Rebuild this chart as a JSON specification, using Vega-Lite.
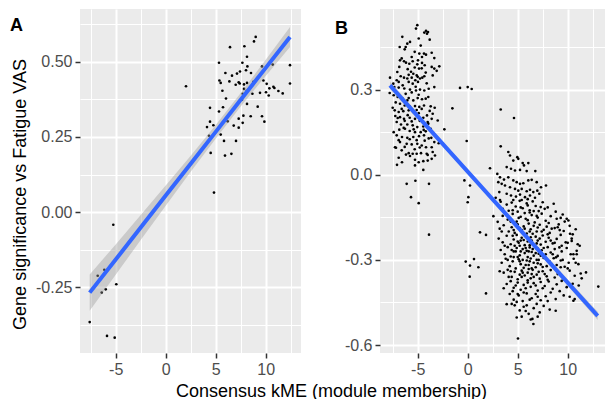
{
  "$schema": "https://vega.github.io/schema/vega-lite/v6.json",
  "padding": {"left": 10, "top": 9, "right": 0, "bottom": 0},
  "background": "white",
  "spacing": 79,
  "bounds": "flush",
  "datasets": {
    "ptsA": [
      {"x":2.03,"y":0.419},{"x":6.43,"y":0.549},{"x":5.33,"y":0.497},{"x":7.87,"y":0.552},{"x":9.0,"y":0.583},{"x":8.83,"y":0.568},{"x":8.13,"y":0.517},{"x":7.67,"y":0.497},{"x":8.17,"y":0.485},{"x":7.43,"y":0.468},{"x":8.03,"y":0.472},{"x":8.53,"y":0.463},{"x":7.13,"y":0.461},{"x":6.63,"y":0.454},{"x":5.97,"y":0.463},{"x":9.63,"y":0.485},{"x":10.7,"y":0.491},{"x":12.43,"y":0.489},{"x":12.43,"y":0.428},{"x":5.37,"y":0.438},{"x":5.5,"y":0.43},{"x":6.37,"y":0.435},{"x":7.0,"y":0.424},{"x":7.3,"y":0.432},{"x":7.4,"y":0.428},{"x":7.83,"y":0.425},{"x":8.13,"y":0.43},{"x":8.77,"y":0.434},{"x":9.77,"y":0.438},{"x":10.1,"y":0.427},{"x":10.37,"y":0.412},{"x":10.77,"y":0.417},{"x":10.87,"y":0.413},{"x":11.27,"y":0.403},{"x":11.7,"y":0.395},{"x":10.03,"y":0.399},{"x":10.3,"y":0.388},{"x":9.43,"y":0.397},{"x":8.67,"y":0.394},{"x":8.1,"y":0.403},{"x":7.83,"y":0.41},{"x":7.7,"y":0.394},{"x":7.63,"y":0.374},{"x":8.13,"y":0.36},{"x":5.67,"y":0.404},{"x":6.03,"y":0.378},{"x":5.73,"y":0.349},{"x":5.33,"y":0.335},{"x":4.43,"y":0.347},{"x":9.2,"y":0.351},{"x":7.77,"y":0.321},{"x":8.5,"y":0.319},{"x":9.63,"y":0.319},{"x":9.87,"y":0.301},{"x":7.3,"y":0.311},{"x":7.7,"y":0.297},{"x":6.8,"y":0.288},{"x":7.3,"y":0.281},{"x":6.2,"y":0.302},{"x":4.43,"y":0.301},{"x":4.77,"y":0.289},{"x":4.13,"y":0.283},{"x":4.33,"y":0.254},{"x":5.5,"y":0.258},{"x":5.83,"y":0.237},{"x":7.03,"y":0.237},{"x":4.5,"y":0.197},{"x":5.93,"y":0.188},{"x":6.57,"y":0.194},{"x":4.83,"y":0.065},
      {"x":-5.24,"y":-0.042},{"x":-6.8,"y":-0.212},{"x":-6.14,"y":-0.192},{"x":-4.94,"y":-0.24},{"x":-6.0,"y":-0.257},{"x":-6.4,"y":-0.268},{"x":-7.6,"y":-0.366},{"x":-5.87,"y":-0.412},{"x":-5.1,"y":-0.418}
    ],
    "fitA": [
      {"x":-7.6,"y":-0.268,"lo":-0.328,"hi":-0.208},
      {"x":-5,"y":-0.158,"lo":-0.2085,"hi":-0.1075},
      {"x":-2.5,"y":-0.0513,"lo":-0.093,"hi":-0.0096},
      {"x":0,"y":0.055,"lo":0.0214,"hi":0.0886},
      {"x":2.5,"y":0.161,"lo":0.1341,"hi":0.1879},
      {"x":5,"y":0.267,"lo":0.2443,"hi":0.2897},
      {"x":7.5,"y":0.374,"lo":0.3513,"hi":0.3967},
      {"x":10,"y":0.48,"lo":0.4533,"hi":0.5067},
      {"x":12.43,"y":0.583,"lo":0.5499,"hi":0.6161}
    ],
    "fitB": [
      {"x":-7.77,"y":0.315,"lo":0.301,"hi":0.329},
      {"x":-5,"y":0.2067,"lo":0.1957,"hi":0.2177},
      {"x":-2.5,"y":0.1089,"lo":0.1003,"hi":0.1175},
      {"x":0,"y":0.0112,"lo":0.0045,"hi":0.0179},
      {"x":2.5,"y":-0.0866,"lo":-0.0926,"hi":-0.0806},
      {"x":5,"y":-0.1843,"lo":-0.191,"hi":-0.1776},
      {"x":7.5,"y":-0.2821,"lo":-0.2907,"hi":-0.2735},
      {"x":10,"y":-0.3798,"lo":-0.3908,"hi":-0.3688},
      {"x":13.0,"y":-0.4971,"lo":-0.5114,"hi":-0.4828}
    ],
    "ptsB": [
      {"x":-5.04,"y":0.527},{"x":-5.17,"y":0.515},{"x":-4.17,"y":0.507},{"x":-3.97,"y":0.503},{"x":-4.07,"y":0.497},{"x":-4.34,"y":0.501},{"x":-6.54,"y":0.486},{"x":-5.77,"y":0.468},{"x":-6.04,"y":0.462},{"x":-6.2,"y":0.45},{"x":-6.3,"y":0.442},{"x":-3.8,"y":0.476},{"x":-5.3,"y":0.433},{"x":-4.84,"y":0.427},{"x":-4.37,"y":0.427},{"x":-4.57,"y":0.415},{"x":-4.17,"y":0.423},{"x":-4.97,"y":0.403},{"x":-3.34,"y":0.411},{"x":-6.77,"y":0.403},{"x":-6.37,"y":0.4},{"x":-6.17,"y":0.395},{"x":-5.84,"y":0.391},{"x":-5.04,"y":0.389},{"x":-4.57,"y":0.394},{"x":-4.3,"y":0.386},{"x":-4.87,"y":0.374},{"x":-3.6,"y":0.38},{"x":-2.84,"y":0.382},{"x":-3.1,"y":0.366},{"x":-3.34,"y":0.374},{"x":-6.84,"y":0.38},{"x":-7.04,"y":0.362},{"x":-5.67,"y":0.363},{"x":-5.44,"y":0.356},{"x":-5.1,"y":0.35},{"x":-6.7,"y":0.347},{"x":-6.37,"y":0.342},{"x":-6.04,"y":0.339},{"x":-5.6,"y":0.342},{"x":-5.24,"y":0.333},{"x":-4.77,"y":0.339},{"x":-4.54,"y":0.342},{"x":-4.34,"y":0.347},{"x":-4.97,"y":0.327},{"x":-5.5,"y":0.321},{"x":-5.9,"y":0.327},{"x":-7.1,"y":0.333},{"x":-6.9,"y":0.327},{"x":-7.44,"y":0.321},{"x":-7.77,"y":0.342},{"x":-7.8,"y":0.288},{"x":-7.34,"y":0.309},{"x":-6.9,"y":0.307},{"x":-6.34,"y":0.304},{"x":-5.77,"y":0.3},{"x":-5.17,"y":0.297},{"x":-4.77,"y":0.3},{"x":-4.34,"y":0.297},{"x":-3.9,"y":0.303},{"x":-3.34,"y":0.309},{"x":-7.4,"y":0.28},{"x":-7.0,"y":0.274},{"x":-6.5,"y":0.268},{"x":-6.04,"y":0.262},{"x":-5.44,"y":0.262},{"x":-5.0,"y":0.27},{"x":-4.57,"y":0.266},{"x":-3.94,"y":0.274},{"x":-6.77,"y":0.25},{"x":-6.3,"y":0.244},{"x":-5.8,"y":0.241},{"x":-5.27,"y":0.242},{"x":-4.84,"y":0.239},{"x":-4.37,"y":0.244},{"x":-3.7,"y":0.241},{"x":-3.3,"y":0.236},{"x":-7.3,"y":0.227},{"x":-6.9,"y":0.221},{"x":-6.44,"y":0.224},{"x":-5.9,"y":0.227},{"x":-5.44,"y":0.221},{"x":-4.9,"y":0.217},{"x":-4.07,"y":0.209},{"x":-3.5,"y":0.215},{"x":-7.24,"y":0.207},{"x":-6.77,"y":0.203},{"x":-6.37,"y":0.197},{"x":-5.8,"y":0.201},{"x":-5.27,"y":0.197},{"x":-4.44,"y":0.201},{"x":-3.6,"y":0.197},{"x":-3.0,"y":0.191},{"x":-7.1,"y":0.186},{"x":-6.67,"y":0.177},{"x":-6.04,"y":0.177},{"x":-5.5,"y":0.174},{"x":-5.04,"y":0.168},{"x":-4.44,"y":0.17},{"x":-3.94,"y":0.18},{"x":-6.84,"y":0.159},{"x":-6.27,"y":0.162},{"x":-5.8,"y":0.154},{"x":-5.27,"y":0.15},{"x":-4.7,"y":0.15},{"x":-4.2,"y":0.153},{"x":-7.1,"y":0.139},{"x":-6.57,"y":0.133},{"x":-6.04,"y":0.13},{"x":-5.44,"y":0.133},{"x":-4.87,"y":0.136},{"x":-4.37,"y":0.139},{"x":-3.64,"y":0.13},{"x":-3.34,"y":0.115},{"x":-2.9,"y":0.111},{"x":-7.27,"y":0.097},{"x":-6.77,"y":0.115},{"x":-6.1,"y":0.109},{"x":-5.6,"y":0.107},{"x":-5.04,"y":0.109},{"x":-4.6,"y":0.103},{"x":-4.17,"y":0.097},{"x":-3.6,"y":0.097},{"x":-7.17,"y":0.095},{"x":-6.6,"y":0.086},{"x":-5.9,"y":0.076},{"x":-5.5,"y":0.074},{"x":-5.1,"y":0.074},{"x":-4.67,"y":0.076},{"x":-3.5,"y":0.08},{"x":-3.27,"y":0.068},{"x":-7.07,"y":0.035},{"x":-6.57,"y":0.044},{"x":-6.17,"y":0.071},{"x":-5.27,"y":0.053},{"x":-4.9,"y":0.044},{"x":-4.44,"y":0.048},{"x":-4.0,"y":0.05},{"x":-3.6,"y":0.056},{"x":-5.27,"y":0.033},{"x":-4.44,"y":0.017},{"x":-5.77,"y":0.066},{"x":-4.1,"y":0.074},
      {"x":-6.6,"y":0.41},{"x":-5.6,"y":0.415},{"x":-4.7,"y":0.455},{"x":-6.0,"y":0.372},{"x":-5.3,"y":0.378},{"x":-4.2,"y":0.36},{"x":-6.5,"y":0.315},{"x":-5.9,"y":0.352},{"x":-5.0,"y":0.345},{"x":-4.1,"y":0.322},{"x":-7.2,"y":0.255},{"x":-6.2,"y":0.285},{"x":-5.6,"y":0.29},{"x":-4.9,"y":0.282},{"x":-4.2,"y":0.268},{"x":-7.5,"y":0.236},{"x":-6.6,"y":0.232},{"x":-5.1,"y":0.228},{"x":-4.6,"y":0.232},{"x":-3.8,"y":0.225},{"x":-7.0,"y":0.2},{"x":-6.0,"y":0.21},{"x":-5.6,"y":0.188},{"x":-4.8,"y":0.19},{"x":-4.0,"y":0.186},{"x":-6.4,"y":0.165},{"x":-5.4,"y":0.16},{"x":-4.4,"y":0.158},{"x":-3.7,"y":0.162},{"x":-7.4,"y":0.15},{"x":-6.9,"y":0.122},{"x":-5.8,"y":0.125},{"x":-5.1,"y":0.122},{"x":-4.3,"y":0.12},{"x":-3.9,"y":0.128},{"x":-6.3,"y":0.098},{"x":-5.3,"y":0.09},{"x":-4.8,"y":0.096},{"x":-6.9,"y":0.06},{"x":-4.0,"y":0.07},{"x":-5.5,"y":0.4},{"x":-6.8,"y":0.45},{"x":-4.9,"y":0.48},{"x":-3.6,"y":0.43},{"x":-5.9,"y":0.27},{"x":-6.3,"y":0.19},{"x":-4.6,"y":0.375},{"x":-3.5,"y":0.35},{"x":-7.6,"y":0.31},{"x":-5.2,"y":0.31},
      {"x":4.06,"y":0.08},{"x":4.23,"y":0.068},{"x":4.96,"y":0.062},{"x":5.06,"y":0.056},{"x":4.56,"y":0.05},{"x":5.5,"y":0.041},{"x":6.06,"y":0.041},{"x":5.63,"y":0.033},{"x":3.9,"y":0.027},{"x":4.33,"y":0.021},{"x":4.73,"y":0.015},{"x":5.23,"y":0.017},{"x":6.76,"y":0.013},{"x":5.9,"y":0.013},{"x":2.96,"y":0.003},{"x":3.23,"y":-0.009},{"x":3.63,"y":-0.017},{"x":4.06,"y":-0.009},{"x":4.56,"y":-0.02},{"x":4.9,"y":-0.026},{"x":5.23,"y":-0.032},{"x":5.56,"y":-0.03},{"x":6.06,"y":-0.02},{"x":6.4,"y":-0.018},{"x":6.9,"y":-0.026},{"x":7.33,"y":-0.044},{"x":7.83,"y":-0.038},{"x":3.06,"y":-0.026},{"x":3.4,"y":-0.032},{"x":3.73,"y":-0.038},{"x":4.23,"y":-0.044},{"x":4.73,"y":-0.05},{"x":5.06,"y":-0.056},{"x":5.4,"y":-0.05},{"x":5.9,"y":-0.058},{"x":6.23,"y":-0.053},{"x":6.56,"y":-0.061},{"x":6.96,"y":-0.056},{"x":3.16,"y":-0.061},{"x":3.9,"y":-0.067},{"x":4.33,"y":-0.073},{"x":4.83,"y":-0.077},{"x":5.23,"y":-0.07},{"x":5.73,"y":-0.079},{"x":6.23,"y":-0.073},{"x":6.73,"y":-0.081},{"x":7.16,"y":-0.067},{"x":2.8,"y":-0.081},{"x":3.23,"y":-0.089},{"x":4.56,"y":-0.089},{"x":5.4,"y":-0.089},{"x":6.0,"y":-0.086},
      {"x":3.3,"y":-0.095},{"x":3.9,"y":-0.105},{"x":4.4,"y":-0.098},{"x":4.8,"y":-0.112},{"x":5.2,"y":-0.092},{"x":5.5,"y":-0.118},{"x":5.9,"y":-0.101},{"x":6.2,"y":-0.125},{"x":6.5,"y":-0.094},{"x":6.8,"y":-0.11},{"x":7.1,"y":-0.128},{"x":7.5,"y":-0.097},{"x":8.0,"y":-0.115},{"x":8.6,"y":-0.102},{"x":4.1,"y":-0.127},{"x":5.0,"y":-0.13},{"x":6.0,"y":-0.108},{"x":7.3,"y":-0.114},
      {"x":3.5,"y":-0.145},{"x":4.0,"y":-0.158},{"x":4.5,"y":-0.138},{"x":4.9,"y":-0.165},{"x":5.3,"y":-0.148},{"x":5.7,"y":-0.135},{"x":6.0,"y":-0.16},{"x":6.4,"y":-0.142},{"x":6.7,"y":-0.168},{"x":7.0,"y":-0.151},{"x":7.4,"y":-0.137},{"x":7.8,"y":-0.162},{"x":8.3,"y":-0.146},{"x":8.9,"y":-0.155},{"x":9.5,"y":-0.14},{"x":5.1,"y":-0.152},{"x":6.2,"y":-0.133},{"x":3.0,"y":-0.166},
      {"x":3.2,"y":-0.19},{"x":3.6,"y":-0.178},{"x":4.1,"y":-0.2},{"x":4.4,"y":-0.185},{"x":4.7,"y":-0.205},{"x":5.0,"y":-0.175},{"x":5.4,"y":-0.195},{"x":5.6,"y":-0.182},{"x":5.9,"y":-0.207},{"x":6.1,"y":-0.172},{"x":6.3,"y":-0.192},{"x":6.6,"y":-0.18},{"x":6.9,"y":-0.2},{"x":7.2,"y":-0.176},{"x":7.6,"y":-0.194},{"x":7.9,"y":-0.183},{"x":8.2,"y":-0.205},{"x":8.7,"y":-0.188},{"x":9.1,"y":-0.175},{"x":9.6,"y":-0.198},{"x":10.2,"y":-0.18},{"x":10.8,"y":-0.192},{"x":5.2,"y":-0.188},{"x":6.5,"y":-0.208},{"x":7.0,"y":-0.186},
      {"x":3.1,"y":-0.225},{"x":3.5,"y":-0.238},{"x":3.9,"y":-0.215},{"x":4.3,"y":-0.245},{"x":4.6,"y":-0.228},{"x":4.9,"y":-0.212},{"x":5.1,"y":-0.24},{"x":5.4,"y":-0.222},{"x":5.7,"y":-0.248},{"x":5.8,"y":-0.214},{"x":6.0,"y":-0.235},{"x":6.3,"y":-0.22},{"x":6.5,"y":-0.244},{"x":6.8,"y":-0.218},{"x":7.0,"y":-0.232},{"x":7.3,"y":-0.246},{"x":7.5,"y":-0.214},{"x":7.8,"y":-0.236},{"x":8.1,"y":-0.222},{"x":8.5,"y":-0.242},{"x":8.9,"y":-0.226},{"x":9.3,"y":-0.212},{"x":9.8,"y":-0.238},{"x":10.4,"y":-0.225},{"x":11.0,"y":-0.245},{"x":5.3,"y":-0.232},{"x":6.2,"y":-0.248},{"x":6.9,"y":-0.242},{"x":4.7,"y":-0.25},
      {"x":3.3,"y":-0.265},{"x":3.7,"y":-0.28},{"x":4.0,"y":-0.255},{"x":4.3,"y":-0.288},{"x":4.6,"y":-0.27},{"x":4.9,"y":-0.258},{"x":5.2,"y":-0.284},{"x":5.5,"y":-0.262},{"x":5.7,"y":-0.276},{"x":6.0,"y":-0.29},{"x":6.2,"y":-0.256},{"x":6.4,"y":-0.272},{"x":6.6,"y":-0.285},{"x":6.9,"y":-0.26},{"x":7.1,"y":-0.278},{"x":7.4,"y":-0.266},{"x":7.7,"y":-0.288},{"x":8.0,"y":-0.255},{"x":8.3,"y":-0.274},{"x":8.7,"y":-0.262},{"x":9.0,"y":-0.286},{"x":9.4,"y":-0.27},{"x":9.9,"y":-0.258},{"x":10.3,"y":-0.28},{"x":10.9,"y":-0.268},{"x":5.9,"y":-0.268},{"x":6.8,"y":-0.276},{"x":7.6,"y":-0.258},{"x":5.0,"y":-0.29},
      {"x":3.4,"y":-0.31},{"x":3.8,"y":-0.296},{"x":4.2,"y":-0.322},{"x":4.5,"y":-0.305},{"x":4.8,"y":-0.33},{"x":5.1,"y":-0.298},{"x":5.3,"y":-0.315},{"x":5.6,"y":-0.328},{"x":5.9,"y":-0.302},{"x":6.1,"y":-0.318},{"x":6.3,"y":-0.295},{"x":6.6,"y":-0.31},{"x":6.8,"y":-0.326},{"x":7.1,"y":-0.3},{"x":7.3,"y":-0.316},{"x":7.6,"y":-0.293},{"x":7.9,"y":-0.322},{"x":8.2,"y":-0.306},{"x":8.6,"y":-0.294},{"x":8.9,"y":-0.318},{"x":9.3,"y":-0.302},{"x":9.7,"y":-0.324},{"x":10.1,"y":-0.31},{"x":10.6,"y":-0.296},{"x":6.4,"y":-0.33},{"x":7.0,"y":-0.312},{"x":5.5,"y":-0.3},
      {"x":3.6,"y":-0.345},{"x":4.0,"y":-0.335},{"x":4.4,"y":-0.36},{"x":4.7,"y":-0.342},{"x":5.0,"y":-0.368},{"x":5.4,"y":-0.338},{"x":5.7,"y":-0.355},{"x":6.0,"y":-0.345},{"x":6.3,"y":-0.365},{"x":6.5,"y":-0.335},{"x":6.9,"y":-0.352},{"x":7.2,"y":-0.366},{"x":7.5,"y":-0.34},{"x":7.9,"y":-0.358},{"x":8.3,"y":-0.336},{"x":8.7,"y":-0.362},{"x":9.2,"y":-0.346},{"x":9.6,"y":-0.37},{"x":10.2,"y":-0.338},{"x":10.7,"y":-0.356},{"x":11.3,"y":-0.348},{"x":6.1,"y":-0.332},{"x":5.2,"y":-0.352},
      {"x":3.9,"y":-0.385},{"x":4.3,"y":-0.375},{"x":4.6,"y":-0.398},{"x":5.0,"y":-0.38},{"x":5.3,"y":-0.405},{"x":5.6,"y":-0.388},{"x":6.0,"y":-0.372},{"x":6.3,"y":-0.395},{"x":6.6,"y":-0.382},{"x":7.0,"y":-0.408},{"x":7.3,"y":-0.378},{"x":7.7,"y":-0.392},{"x":8.1,"y":-0.376},{"x":8.5,"y":-0.402},{"x":8.9,"y":-0.386},{"x":9.4,"y":-0.374},{"x":9.9,"y":-0.396},{"x":10.5,"y":-0.384},{"x":11.1,"y":-0.39},{"x":5.8,"y":-0.4},
      {"x":4.2,"y":-0.42},{"x":4.6,"y":-0.44},{"x":5.1,"y":-0.425},{"x":5.5,"y":-0.445},{"x":5.9,"y":-0.418},{"x":6.4,"y":-0.435},{"x":6.8,"y":-0.42},{"x":7.3,"y":-0.442},{"x":7.8,"y":-0.428},{"x":8.3,"y":-0.415},{"x":8.8,"y":-0.438},{"x":9.6,"y":-0.425},{"x":10.2,"y":-0.43},{"x":4.9,"y":-0.448},
      {"x":4.7,"y":-0.46},{"x":5.2,"y":-0.478},{"x":5.6,"y":-0.465},{"x":6.1,"y":-0.49},{"x":6.6,"y":-0.47},{"x":7.2,"y":-0.485},{"x":7.6,"y":-0.462},{"x":8.2,"y":-0.475},{"x":5.4,"y":-0.5},{"x":6.3,"y":-0.51},{"x":5.8,"y":-0.48},{"x":7.0,"y":-0.5},
      {"x":4.5,"y":-0.125},{"x":5.3,"y":-0.115},{"x":6.6,"y":-0.128},{"x":7.7,"y":-0.12},{"x":4.3,"y":-0.165},{"x":5.8,"y":-0.155},{"x":6.9,"y":-0.145},{"x":8.1,"y":-0.17},{"x":4.6,"y":-0.195},{"x":5.5,"y":-0.205},{"x":6.2,"y":-0.2},{"x":7.4,"y":-0.2},{"x":8.4,"y":-0.19},{"x":4.5,"y":-0.215},{"x":5.0,"y":-0.235},{"x":5.6,"y":-0.23},{"x":6.4,"y":-0.232},{"x":7.2,"y":-0.225},{"x":8.3,"y":-0.232},{"x":4.4,"y":-0.265},{"x":5.3,"y":-0.27},{"x":5.8,"y":-0.258},{"x":6.5,"y":-0.262},{"x":7.3,"y":-0.285},{"x":8.5,"y":-0.28},{"x":4.6,"y":-0.29},{"x":5.2,"y":-0.305},{"x":5.8,"y":-0.318},{"x":6.2,"y":-0.305},{"x":6.9,"y":-0.3},{"x":7.5,"y":-0.325},{"x":8.4,"y":-0.315},{"x":4.3,"y":-0.34},{"x":5.5,"y":-0.345},{"x":6.4,"y":-0.35},{"x":7.1,"y":-0.342},{"x":7.7,"y":-0.35},{"x":8.0,"y":-0.37},{"x":4.8,"y":-0.39},{"x":6.8,"y":-0.39},{"x":7.5,"y":-0.4},{"x":5.6,"y":-0.415},{"x":6.2,"y":-0.44},{"x":7.0,"y":-0.43},{"x":8.0,"y":-0.445},{"x":9.2,"y":-0.41},{"x":4.4,"y":-0.455},{"x":6.9,"y":-0.455},{"x":5.9,"y":-0.46},{"x":9.0,"y":-0.35},{"x":9.5,"y":-0.3},{"x":10.0,"y":-0.24},{"x":9.2,"y":-0.195},{"x":10.5,"y":-0.21},{"x":10.8,"y":-0.31},{"x":10.0,"y":-0.33},{"x":11.2,"y":-0.25},{"x":9.7,"y":-0.165},{"x":8.8,"y":-0.13},{"x":3.4,"y":-0.2},{"x":3.2,"y":-0.34},{"x":3.6,"y":-0.4},{"x":3.7,"y":-0.25},{"x":3.5,"y":-0.12},{"x":4.0,"y":-0.3},{"x":4.1,"y":-0.36},{"x":5.0,"y":-0.42},{"x":4.5,"y":-0.41},{"x":6.0,"y":-0.38},{"x":5.4,"y":-0.36},{"x":6.6,"y":-0.36},{"x":7.8,"y":-0.28},{"x":8.7,"y":-0.24},{"x":9.4,"y":-0.25},{"x":8.0,"y":-0.21},{"x":7.0,"y":-0.26},{"x":6.1,"y":-0.27},{"x":5.2,"y":-0.25},{"x":4.8,"y":-0.27},{"x":5.7,"y":-0.19},
      {"x":9.9,"y":-0.155},{"x":10.07,"y":-0.161},{"x":10.23,"y":-0.208},{"x":10.4,"y":-0.233},{"x":10.57,"y":-0.28},{"x":10.9,"y":-0.28},{"x":11.07,"y":-0.315},{"x":9.3,"y":-0.152},{"x":9.0,"y":-0.185},{"x":9.17,"y":-0.256},{"x":8.83,"y":-0.291},{"x":9.3,"y":-0.326},{"x":10.7,"y":-0.438},
      {"x":-0.77,"y":0.306},{"x":0.0,"y":0.309},{"x":0.4,"y":0.302},{"x":-1.53,"y":0.234},{"x":-2.33,"y":0.16},{"x":-0.1,"y":0.119},{"x":3.3,"y":0.23},{"x":4.63,"y":0.2},{"x":3.3,"y":0.1},{"x":2.23,"y":0.023},{"x":-0.33,"y":-0.02},{"x":0.23,"y":-0.038},{"x":-6.1,"y":-0.032},{"x":-5.23,"y":-0.021},{"x":-3.87,"y":-0.032},{"x":-5.67,"y":-0.079},{"x":0.07,"y":-0.079},{"x":-4.9,"y":-0.1},{"x":0.0,"y":-0.097},{"x":-3.87,"y":-0.211},{"x":-0.2,"y":-0.306},{"x":0.23,"y":-0.32},{"x":0.63,"y":-0.297},{"x":1.07,"y":-0.326},{"x":0.2,"y":-0.359},{"x":1.23,"y":-0.203},{"x":1.83,"y":-0.212},{"x":2.57,"y":-0.146},{"x":1.83,"y":-0.418},{"x":5.03,"y":-0.577},{"x":13.06,"y":-0.394},{"x":11.83,"y":-0.344},{"x":11.4,"y":-0.365},{"x":10.57,"y":-0.444},{"x":8.8,"y":-0.479},{"x":6.57,"y":-0.526},{"x":6.47,"y":-0.508},{"x":4.9,"y":-0.503},{"x":3.9,"y":-0.456}
    ]
  },
  "hconcat": [
    {
      "width": 221,
      "height": 344,
      "encoding": {
        "x": {
          "field": "x", "type": "quantitative",
          "scale": {"domain": [-8.57, 13.53], "nice": false, "zero": false},
          "axis": {
            "values": [-7.5, -5, -2.5, 0, 2.5, 5, 7.5, 10, 12.5],
            "labelExpr": "datum.value % 5 === 0 ? toString(datum.value) : ''",
            "gridWidth": {"condition": {"test": "datum.value % 5 !== 0", "value": 1}, "value": 2},
            "tickOpacity": {"condition": {"test": "datum.value % 5 !== 0", "value": 0}, "value": 1},
            "title": "Consensus kME (module membership)",
            "titleX": 251, "titleY": 43, "titleAlign": "center", "titleBaseline": "alphabetic"
          }
        }
      },
      "layer": [
        {
          "data": {"name": "ptsA"},
          "mark": {"type": "circle", "size": 7, "color": "#000000", "opacity": 1},
          "encoding": {
            "y": {
              "field": "y", "type": "quantitative",
              "scale": {"domain": [-0.469, 0.676], "nice": false, "zero": false},
              "axis": {
                "values": [-0.375, -0.25, -0.125, 0, 0.125, 0.25, 0.375, 0.5, 0.625],
                "labelExpr": "abs(datum.value*4 - round(datum.value*4)) < 0.001 ? replace(format(datum.value, '.2f'), '\u2212', '-') : ''",
                "gridWidth": {"condition": {"test": "abs(datum.value*4 - round(datum.value*4)) > 0.001", "value": 1}, "value": 2},
                "tickOpacity": {"condition": {"test": "abs(datum.value*4 - round(datum.value*4)) > 0.001", "value": 0}, "value": 1},
                "title": "Gene significance vs Fatigue VAS",
                "titleX": -55, "titleY": 185, "titleAngle": 270, "titleAlign": "center", "titleBaseline": "alphabetic"
              }
            }
          }
        },
        {
          "data": {"name": "fitA"},
          "mark": {"type": "area", "color": "#999999", "opacity": 0.4},
          "encoding": {
            "y": {
              "field": "lo", "type": "quantitative",
              "scale": {"domain": [-0.469, 0.676], "nice": false, "zero": false},
              "axis": {
                "values": [-0.375, -0.25, -0.125, 0, 0.125, 0.25, 0.375, 0.5, 0.625],
                "labelExpr": "abs(datum.value*4 - round(datum.value*4)) < 0.001 ? replace(format(datum.value, '.2f'), '\u2212', '-') : ''",
                "gridWidth": {"condition": {"test": "abs(datum.value*4 - round(datum.value*4)) > 0.001", "value": 1}, "value": 2},
                "tickOpacity": {"condition": {"test": "abs(datum.value*4 - round(datum.value*4)) > 0.001", "value": 0}, "value": 1},
                "title": "Gene significance vs Fatigue VAS",
                "titleX": -55, "titleY": 185, "titleAngle": 270, "titleAlign": "center", "titleBaseline": "alphabetic"
              }
            },
            "y2": {"field": "hi"}
          }
        },
        {
          "data": {"name": "fitA"},
          "mark": {"type": "line", "color": "#3366FF", "strokeWidth": 4},
          "encoding": {
            "y": {
              "field": "y", "type": "quantitative",
              "scale": {"domain": [-0.469, 0.676], "nice": false, "zero": false},
              "axis": {
                "values": [-0.375, -0.25, -0.125, 0, 0.125, 0.25, 0.375, 0.5, 0.625],
                "labelExpr": "abs(datum.value*4 - round(datum.value*4)) < 0.001 ? replace(format(datum.value, '.2f'), '\u2212', '-') : ''",
                "gridWidth": {"condition": {"test": "abs(datum.value*4 - round(datum.value*4)) > 0.001", "value": 1}, "value": 2},
                "tickOpacity": {"condition": {"test": "abs(datum.value*4 - round(datum.value*4)) > 0.001", "value": 0}, "value": 1},
                "title": "Gene significance vs Fatigue VAS",
                "titleX": -55, "titleY": 185, "titleAngle": 270, "titleAlign": "center", "titleBaseline": "alphabetic"
              }
            }
          }
        },
        {
          "data": {"values": [{"label": "A", "lx": -15.57, "ly": 0.603}]},
          "mark": {"type": "text", "align": "left", "baseline": "alphabetic", "fontSize": 18, "fontWeight": "bold", "font": "Liberation Sans", "color": "#000000"},
          "encoding": {
            "text": {"field": "label"},
            "x": {
              "field": "lx", "type": "quantitative",
              "scale": {"domain": [-8.57, 13.53], "nice": false, "zero": false},
              "axis": {
                "values": [-7.5, -5, -2.5, 0, 2.5, 5, 7.5, 10, 12.5],
                "labelExpr": "datum.value % 5 === 0 ? toString(datum.value) : ''",
                "gridWidth": {"condition": {"test": "datum.value % 5 !== 0", "value": 1}, "value": 2},
                "tickOpacity": {"condition": {"test": "datum.value % 5 !== 0", "value": 0}, "value": 1},
                "title": "Consensus kME (module membership)",
                "titleX": 251, "titleY": 43, "titleAlign": "center", "titleBaseline": "alphabetic"
              }
            },
            "y": {
              "field": "ly", "type": "quantitative",
              "scale": {"domain": [-0.469, 0.676], "nice": false, "zero": false},
              "axis": {
                "values": [-0.375, -0.25, -0.125, 0, 0.125, 0.25, 0.375, 0.5, 0.625],
                "labelExpr": "abs(datum.value*4 - round(datum.value*4)) < 0.001 ? replace(format(datum.value, '.2f'), '\u2212', '-') : ''",
                "gridWidth": {"condition": {"test": "abs(datum.value*4 - round(datum.value*4)) > 0.001", "value": 1}, "value": 2},
                "tickOpacity": {"condition": {"test": "abs(datum.value*4 - round(datum.value*4)) > 0.001", "value": 0}, "value": 1},
                "title": "Gene significance vs Fatigue VAS",
                "titleX": -55, "titleY": 185, "titleAngle": 270, "titleAlign": "center", "titleBaseline": "alphabetic"
              }
            }
          }
        }
      ]
    },
    {
      "width": 225,
      "height": 344,
      "encoding": {
        "x": {
          "field": "x", "type": "quantitative",
          "scale": {"domain": [-8.77, 13.73], "nice": false, "zero": false},
          "axis": {
            "values": [-7.5, -5, -2.5, 0, 2.5, 5, 7.5, 10, 12.5],
            "labelExpr": "datum.value % 5 === 0 ? toString(datum.value) : ''",
            "gridWidth": {"condition": {"test": "datum.value % 5 !== 0", "value": 1}, "value": 2},
            "tickOpacity": {"condition": {"test": "datum.value % 5 !== 0", "value": 0}, "value": 1},
            "title": null
          }
        }
      },
      "layer": [
        {
          "data": {"name": "ptsB"},
          "mark": {"type": "circle", "size": 7, "color": "#000000", "opacity": 1},
          "encoding": {
            "y": {
              "field": "y", "type": "quantitative",
              "scale": {"domain": [-0.628, 0.584], "nice": false, "zero": false},
              "axis": {
                "values": [-0.6, -0.45, -0.3, -0.15, 0, 0.15, 0.3, 0.45],
                "labelExpr": "abs(datum.value/0.3 - round(datum.value/0.3)) < 0.001 ? replace(format(datum.value, '.1f'), '\u2212', '-') : ''",
                "gridWidth": {"condition": {"test": "abs(datum.value/0.3 - round(datum.value/0.3)) > 0.001", "value": 1}, "value": 2},
                "tickOpacity": {"condition": {"test": "abs(datum.value/0.3 - round(datum.value/0.3)) > 0.001", "value": 0}, "value": 1},
                "title": null
              }
            }
          }
        },
        {
          "data": {"name": "fitB"},
          "mark": {"type": "area", "color": "#999999", "opacity": 0.4},
          "encoding": {
            "y": {
              "field": "lo", "type": "quantitative",
              "scale": {"domain": [-0.628, 0.584], "nice": false, "zero": false},
              "axis": {
                "values": [-0.6, -0.45, -0.3, -0.15, 0, 0.15, 0.3, 0.45],
                "labelExpr": "abs(datum.value/0.3 - round(datum.value/0.3)) < 0.001 ? replace(format(datum.value, '.1f'), '\u2212', '-') : ''",
                "gridWidth": {"condition": {"test": "abs(datum.value/0.3 - round(datum.value/0.3)) > 0.001", "value": 1}, "value": 2},
                "tickOpacity": {"condition": {"test": "abs(datum.value/0.3 - round(datum.value/0.3)) > 0.001", "value": 0}, "value": 1},
                "title": null
              }
            },
            "y2": {"field": "hi"}
          }
        },
        {
          "data": {"name": "fitB"},
          "mark": {"type": "line", "color": "#3366FF", "strokeWidth": 4},
          "encoding": {
            "y": {
              "field": "y", "type": "quantitative",
              "scale": {"domain": [-0.628, 0.584], "nice": false, "zero": false},
              "axis": {
                "values": [-0.6, -0.45, -0.3, -0.15, 0, 0.15, 0.3, 0.45],
                "labelExpr": "abs(datum.value/0.3 - round(datum.value/0.3)) < 0.001 ? replace(format(datum.value, '.1f'), '\u2212', '-') : ''",
                "gridWidth": {"condition": {"test": "abs(datum.value/0.3 - round(datum.value/0.3)) > 0.001", "value": 1}, "value": 2},
                "tickOpacity": {"condition": {"test": "abs(datum.value/0.3 - round(datum.value/0.3)) > 0.001", "value": 0}, "value": 1},
                "title": null
              }
            }
          }
        },
        {
          "data": {"values": [{"label": "B", "lx": -13.27, "ly": 0.496}]},
          "mark": {"type": "text", "align": "left", "baseline": "alphabetic", "fontSize": 18, "fontWeight": "bold", "font": "Liberation Sans", "color": "#000000"},
          "encoding": {
            "text": {"field": "label"},
            "x": {
              "field": "lx", "type": "quantitative",
              "scale": {"domain": [-8.77, 13.73], "nice": false, "zero": false},
              "axis": {
                "values": [-7.5, -5, -2.5, 0, 2.5, 5, 7.5, 10, 12.5],
                "labelExpr": "datum.value % 5 === 0 ? toString(datum.value) : ''",
                "gridWidth": {"condition": {"test": "datum.value % 5 !== 0", "value": 1}, "value": 2},
                "tickOpacity": {"condition": {"test": "datum.value % 5 !== 0", "value": 0}, "value": 1},
                "title": null
              }
            },
            "y": {
              "field": "ly", "type": "quantitative",
              "scale": {"domain": [-0.628, 0.584], "nice": false, "zero": false},
              "axis": {
                "values": [-0.6, -0.45, -0.3, -0.15, 0, 0.15, 0.3, 0.45],
                "labelExpr": "abs(datum.value/0.3 - round(datum.value/0.3)) < 0.001 ? replace(format(datum.value, '.1f'), '\u2212', '-') : ''",
                "gridWidth": {"condition": {"test": "abs(datum.value/0.3 - round(datum.value/0.3)) > 0.001", "value": 1}, "value": 2},
                "tickOpacity": {"condition": {"test": "abs(datum.value/0.3 - round(datum.value/0.3)) > 0.001", "value": 0}, "value": 1},
                "title": null
              }
            }
          }
        }
      ]
    }
  ],
  "config": {
    "font": "Liberation Sans",
    "view": {"fill": "#EBEBEB", "stroke": null},
    "axis": {
      "domain": false,
      "ticks": true,
      "tickColor": "#333333",
      "tickWidth": 1.5,
      "tickSize": 5,
      "labelFont": "Liberation Sans",
      "labelFontSize": 16,
      "labelColor": "#4D4D4D",
      "labelPadding": 3,
      "labelFlush": false,
      "labelOverlap": false,
      "gridColor": "#FFFFFF",
      "gridOpacity": 1,
      "titleFont": "Liberation Sans",
      "titleFontSize": 18,
      "titleFontWeight": "normal",
      "titleColor": "#000000"
    }
  }
}
